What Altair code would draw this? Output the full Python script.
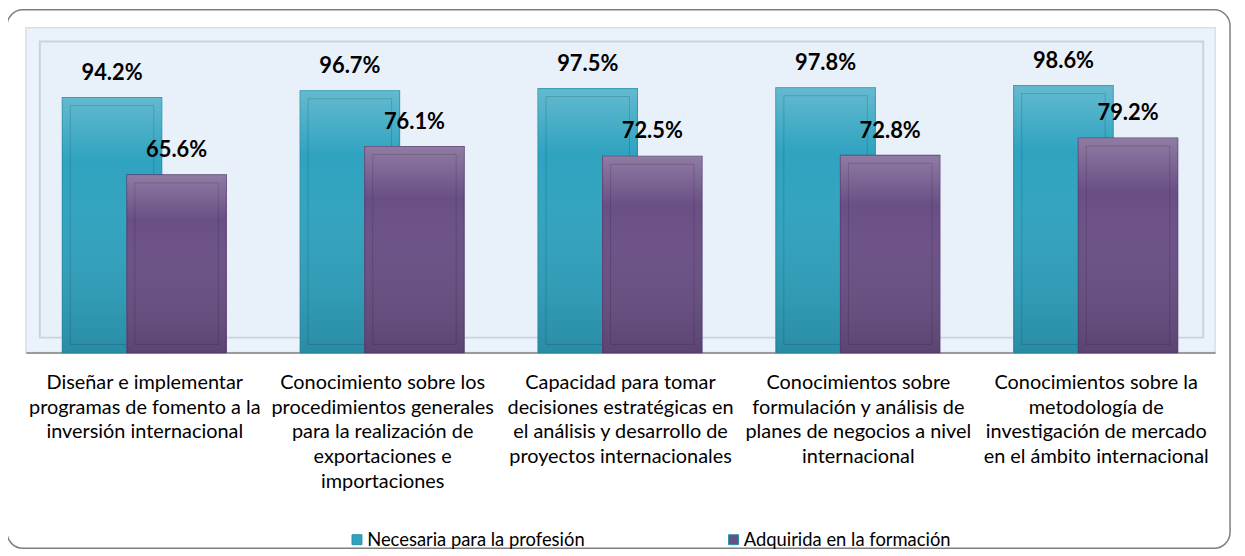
import altair as alt
import pandas as pd

categories = [
    "Diseñar e implementar|programas de fomento a la|inversión internacional",
    "Conocimiento sobre los|procedimientos generales|para la realización de|exportaciones e|importaciones",
    "Capacidad para tomar|decisiones estratégicas en|el análisis y desarrollo de|proyectos internacionales",
    "Conocimientos  sobre|formulación y análisis de|planes de negocios a nivel|internacional",
    "Conocimientos sobre la|metodología de|investigación de mercado|en el ámbito internacional",
]
series = ["Necesaria para la profesión", "Adquirida en la formación"]
necesaria = [94.2, 96.7, 97.5, 97.8, 98.6]
adquirida = [65.6, 76.1, 72.5, 72.8, 79.2]
colors = ["#2fa3c0", "#6a4f85"]
strokes = ["#2791ab", "#5a4275"]
offsets = [-33, 32]

rows = []
for c, a, b in zip(categories, necesaria, adquirida):
    rows.append({"cat": c, "serie": series[0], "val": a, "lbl": f"{a:.1f}%"})
    rows.append({"cat": c, "serie": series[1], "val": b, "lbl": f"{b:.1f}%"})
df = pd.DataFrame(rows)
one = pd.DataFrame({"k": [0]})

W, H = 1197, 327
FONT = "Lato"

x_enc = alt.X("cat:N", sort=categories, title=None,
              scale=alt.Scale(paddingInner=0, paddingOuter=0),
              axis=alt.Axis(labelExpr="split(datum.value, '|')", labelAngle=0,
                            labelFontSize=20, labelFont=FONT, labelColor="#000000",
                            labelLineHeight=25, labelPadding=20, ticks=False,
                            domainColor="#9a9a9a", domainWidth=2, labelLimit=400,
                            labelBaseline="top"))
y_scale = alt.Scale(domain=[0, 120])
y_enc = alt.Y("val:Q", scale=y_scale, axis=None)

frame = alt.Chart(one).mark_rect(
    fillOpacity=0, stroke="#7f7f7f", strokeWidth=1.5, cornerRadius=16
).encode(x=alt.value(-19), x2=alt.value(1212), y=alt.value(-18), y2=alt.value(524))

wall = alt.Chart(one).mark_rect(
    fill="#e8f0fa", stroke="#cad3dd", strokeWidth=2
).encode(x=alt.value(14), x2=alt.value(1185), y=alt.value(14), y2=alt.value(312))

grad = {"gradient": "linear", "x1": 0, "x2": 0, "y1": 0, "y2": 1,
        "stops": [{"color": "rgba(255,255,255,0.25)", "offset": 0},
                  {"color": "rgba(255,255,255,0)", "offset": 0.25},
                  {"color": "rgba(0,0,0,0.14)", "offset": 1}]}

layers = [frame, wall]
for i, s in enumerate(series):
    sub = alt.Chart(df).transform_filter(alt.datum.serie == s)
    bar = sub.mark_bar(width=100, xOffset=offsets[i], stroke=strokes[i], strokeWidth=1.2).encode(
        x=x_enc,
        y=y_enc,
        color=alt.Color("serie:N", sort=series,
                        scale=alt.Scale(domain=series, range=colors),
                        legend=alt.Legend(title=None, orient="none", direction="horizontal",
                                          legendX=324, legendY=506, symbolType="square",
                                          symbolSize=100, symbolStrokeWidth=1,
                                          labelFontSize=18.5, labelFont=FONT, labelColor="#000000",
                                          columnPadding=140, labelOffset=1, labelLimit=400)),
    )
    shade = sub.mark_bar(width=100, xOffset=offsets[i], fill=grad).encode(x=x_enc, y=y_enc)
    bevel = sub.mark_bar(
        width=84, xOffset=offsets[i], yOffset=8, fillOpacity=0,
        stroke="rgba(0,0,0,0.15)", strokeWidth=1
    ).encode(x=x_enc, y=y_enc, y2=alt.datum(3))
    text = sub.mark_text(
        xOffset=offsets[i], dy=-25, font=FONT, fontSize=22, fontWeight="bold", color="#000000"
    ).encode(x=x_enc, y=y_enc, text="lbl:N")
    layers += [bar, shade, bevel, text]

chart = alt.layer(*layers).properties(
    width=W, height=H,
    autosize=alt.AutoSizeParams(type="none"),
    padding={"left": 18, "top": 18, "right": 22, "bottom": 200},
).configure_view(fill="#eaf2fb", stroke="#d8dfe7", strokeWidth=1.5)

chart.save("out.html", embed_options={"renderer": "svg", "actions": False})
